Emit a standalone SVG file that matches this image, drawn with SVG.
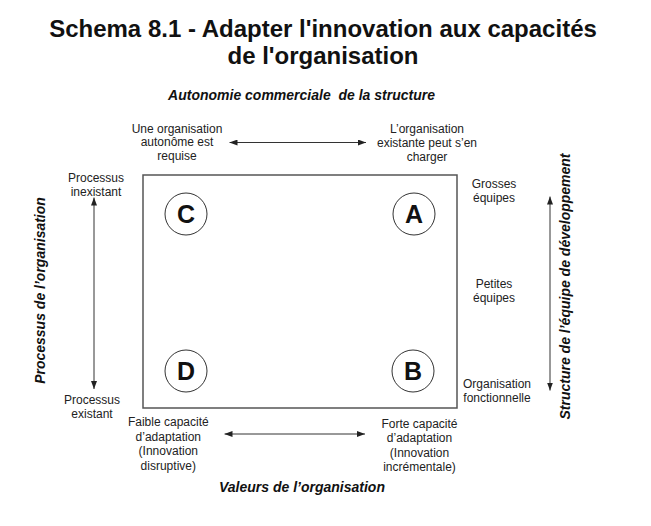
<svg xmlns="http://www.w3.org/2000/svg" width="651" height="526" viewBox="0 0 651 526">
<defs>
<style>
.title{font-family:"Liberation Sans",Arial,sans-serif;font-weight:bold;font-size:24px;fill:#111;text-anchor:middle}
.axis{font-family:"Liberation Sans",Arial,sans-serif;font-weight:bold;font-style:italic;font-size:14px;fill:#111;text-anchor:middle;white-space:pre}
.lbl{font-family:"Liberation Sans",Arial,sans-serif;font-size:12px;fill:#222;text-anchor:middle}
.letter{font-family:"Liberation Sans",Arial,sans-serif;font-weight:bold;font-size:25px;fill:#111;text-anchor:middle}
.circ{fill:#fff;stroke:#333;stroke-width:1}
.conn{fill:none;stroke:#333;stroke-width:1;marker-start:url(#ah);marker-end:url(#ah)}
</style>
<marker id="ah" viewBox="0 0 8 6" refX="8" refY="3" markerWidth="8" markerHeight="6" markerUnits="userSpaceOnUse" orient="auto-start-reverse">
<path d="M0,0 L8,3 L0,6 z" fill="#222"/>
</marker>
</defs>
<rect width="651" height="526" fill="#fff"/>
<g id="title">
<text class="title" x="323" y="37">Schema 8.1 - Adapter l'innovation aux capacités</text>
<text class="title" x="323" y="64">de l'organisation</text>
</g>
<g id="axis-labels">
<text class="axis" x="301.5" y="100" xml:space="preserve">Autonomie commerciale  de la structure</text>
<text class="axis" x="302" y="492">Valeurs de l’organisation</text>
<text class="axis" transform="translate(45,290.5) rotate(-90)">Processus de l’organisation</text>
<text class="axis" transform="translate(569.5,286.5) rotate(-90)">Structure de l’équipe de développement</text>
</g>
<g id="matrix">
<rect x="143" y="175" width="314" height="233" fill="none" stroke="#555" stroke-width="1.5"/>
</g>
<g id="node-C"><circle class="circ" cx="186" cy="214" r="21"/><text class="letter" x="186" y="223">C</text></g>
<g id="node-A"><circle class="circ" cx="414" cy="214" r="21"/><text class="letter" x="414" y="223">A</text></g>
<g id="node-D"><circle class="circ" cx="186" cy="371" r="21"/><text class="letter" x="186" y="380">D</text></g>
<g id="node-B"><circle class="circ" cx="413" cy="371" r="21"/><text class="letter" x="413" y="380">B</text></g>
<g id="connectors">
<line class="conn" x1="229.5" y1="142.5" x2="366" y2="142.5"/>
<line class="conn" x1="224.5" y1="434" x2="365" y2="434"/>
<line class="conn" x1="94" y1="197.5" x2="94" y2="389"/>
<line class="conn" x1="550" y1="196.5" x2="550" y2="390.5"/>
</g>
<g id="labels">
<text class="lbl" x="177" y="132.5">Une organisation</text>
<text class="lbl" x="177" y="146.2">autonôme est</text>
<text class="lbl" x="177" y="160">requise</text>
<text class="lbl" x="427" y="133">L’organisation</text>
<text class="lbl" x="427" y="147">existante peut s’en</text>
<text class="lbl" x="427" y="161">charger</text>
<text class="lbl" x="96" y="182">Processus</text>
<text class="lbl" x="96" y="196">inexistant</text>
<text class="lbl" x="92" y="404">Processus</text>
<text class="lbl" x="92" y="418">existant</text>
<text class="lbl" x="168.3" y="426">Faible capacité</text>
<text class="lbl" x="168.3" y="440.6">d’adaptation</text>
<text class="lbl" x="168.3" y="455.2">(Innovation</text>
<text class="lbl" x="168.3" y="469.8">disruptive)</text>
<text class="lbl" x="419.5" y="427.5">Forte capacité</text>
<text class="lbl" x="419.5" y="442">d’adaptation</text>
<text class="lbl" x="419.5" y="456.5">(Innovation</text>
<text class="lbl" x="419.5" y="471">incrémentale)</text>
<text class="lbl" x="494" y="188">Grosses</text>
<text class="lbl" x="494" y="202">équipes</text>
<text class="lbl" x="494" y="288">Petites</text>
<text class="lbl" x="494" y="302">équipes</text>
<text class="lbl" x="497" y="387.5">Organisation</text>
<text class="lbl" x="497" y="401.5">fonctionnelle</text>
</g>
</svg>
